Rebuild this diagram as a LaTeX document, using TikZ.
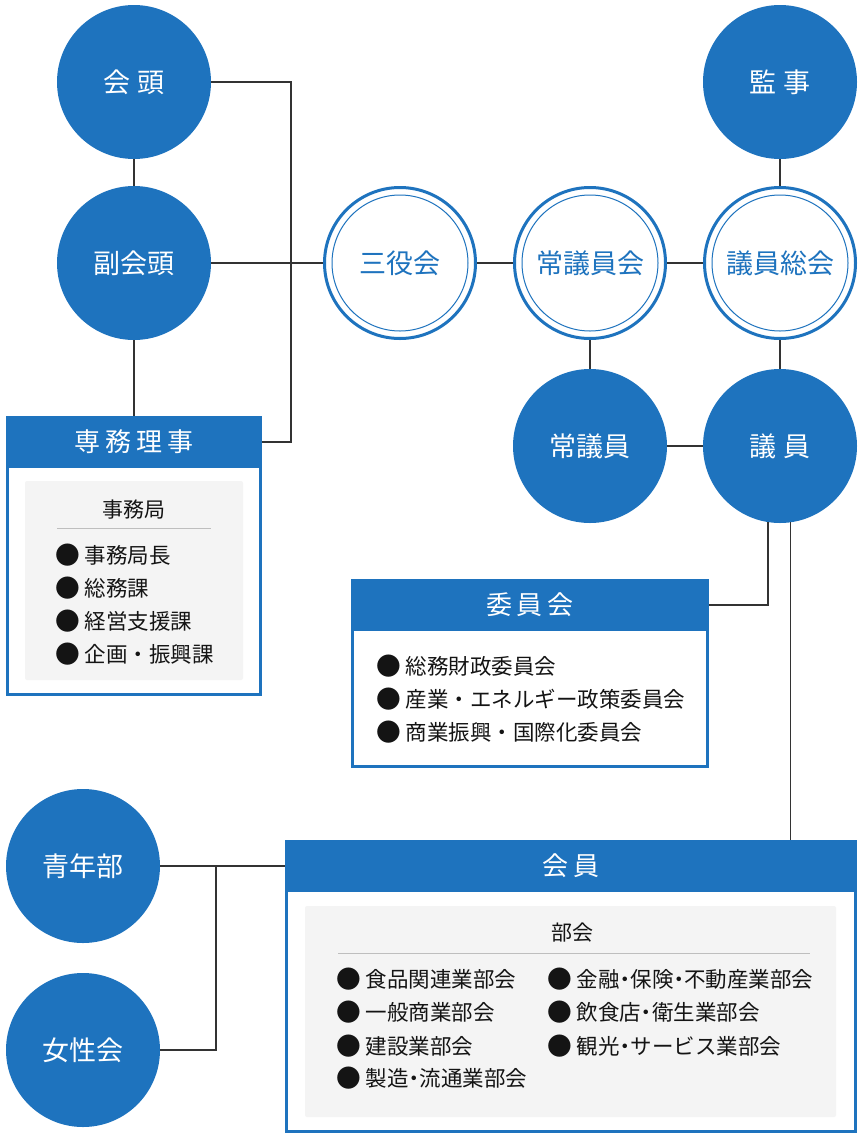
\documentclass[tikz,border=0pt]{standalone}
\usepackage{fontspec}
\setmainfont{Noto Sans CJK JP}
\definecolor{mblue}{RGB}{30,115,190}
\definecolor{panelgray}{RGB}{244,244,244}
\definecolor{lineclr}{RGB}{51,51,51}
\definecolor{rulegray}{RGB}{190,190,190}
\newcommand\hdot{\makebox[0.5em][c]{・}}
\newcommand\bul{\raisebox{-0.06em}{\scalebox{1.15}{●}}}
\tikzset{
 fc/.style={circle, fill=mblue, minimum size=154pt, inner sep=0pt, text=white, font=\fontsize{27pt}{30pt}\selectfont},
 dc/.style={circle, draw=mblue, line width=3pt, fill=white, minimum size=151pt, inner sep=0pt, text=mblue, font=\fontsize{27pt}{30pt}\selectfont},
 hdr/.style={rectangle, fill=mblue, inner sep=0pt, text=white, minimum height=52pt, font=\fontsize{26pt}{30pt}\selectfont},
 bodybox/.style={rectangle, draw=mblue, line width=3pt, fill=white, inner sep=0pt},
 panel/.style={rectangle, fill=panelgray, rounded corners=2pt, inner sep=0pt},
 item/.style={anchor=west, inner sep=0pt, text=black!92, font=\fontsize{21.5pt}{25pt}\selectfont},
 ptitle/.style={inner sep=0pt, text=black!92, font=\fontsize{21pt}{25pt}\selectfont},
 conn/.style={draw=lineclr, line width=1.2pt},
}
\begin{document}
\begin{tikzpicture}[x=1pt,y=-1pt]
\useasboundingbox (0,0) rectangle (860,1141);

% circles
\node[fc] (kaito) at (134,82) {会 頭};
\node[fc] (fukukaito) at (134,263) {副会頭};
\node[fc] (kanji) at (780,82) {監 事};
\node[dc] (sanyaku) at (400,263) {三役会};
\node[dc] (joginkai) at (590,263) {常議員会};
\node[dc] (giinsokai) at (780,263) {議員総会};
\foreach \n in {sanyaku,joginkai,giinsokai}
  \draw[mblue, line width=1pt] (\n.center) circle[radius=68];
\node[fc] (jogiin) at (590,446) {常議員};
\node[fc] (giin) at (780,446) {議 員};
\node[fc] (seinen) at (83,866) {青年部};
\node[fc] (josei) at (83,1050) {女性会};

% senmu box
\node[bodybox, minimum width=253pt, minimum height=277pt] (senmu) at (134,556) {};
\node[hdr, minimum width=256pt] (senmuH) at (134,442) {専\kern5pt 務\kern5pt 理\kern5pt 事};
\node[panel, minimum width=218pt, minimum height=199pt] (jimu) at (134,580.5) {};
\node[ptitle] (jimuT) at (134,510) {事務局};
\draw[rulegray, line width=1pt] (57,528) -- (211,528);
\node[item] (j1) at (55,555) {\bul{} 事務局長};
\node[item] (j2) at (55,588) {\bul{} 総務課};
\node[item] (j3) at (55,621) {\bul{} 経営支援課};
\node[item] (j4) at (55,654) {\bul{} 企画・振興課};

% iinkai box
\node[bodybox, minimum width=355pt, minimum height=186pt] (iin) at (530,673.5) {};
\node[hdr, minimum width=358pt] (iinH) at (530,605) {委\kern5pt 員\kern5pt 会};
\node[item] (i1) at (376,666) {\bul{} 総務財政委員会};
\node[item] (i2) at (376,699) {\bul{} 産業・エネルギー政策委員会};
\node[item] (i3) at (376,732) {\bul{} 商業振興・国際化委員会};

% kaiin box
\node[bodybox, minimum width=569pt, minimum height=290pt] (kaiin) at (571,986.5) {};
\node[hdr, minimum width=572pt] (kaiinH) at (571,866) {会\kern5pt 員};
\node[panel, minimum width=531pt, minimum height=211pt] (bukai) at (570.5,1011.5) {};
\node[ptitle] (bukaiT) at (572,933) {部会};
\draw[rulegray, line width=1pt] (338,953) -- (810,953);
\node[item] (b1) at (336,979) {\bul{} 食品関連業部会};
\node[item] (b2) at (336,1012) {\bul{} 一般商業部会};
\node[item] (b3) at (336,1046) {\bul{} 建設業部会};
\node[item] (b4) at (336,1078) {\bul{} 製造\hdot 流通業部会};
\node[item] (b5) at (547,979) {\bul{} 金融\hdot 保険\hdot 不動産業部会};
\node[item] (b6) at (547,1012) {\bul{} 飲食店\hdot 衛生業部会};
\node[item] (b7) at (547,1046) {\bul{} 観光\hdot サービス業部会};

% connectors
\coordinate (c1) at (291,82);
\coordinate (c2) at (216,866);
\draw[conn] (kaito) -- (fukukaito);
\draw[conn] (fukukaito) -- (senmuH);
\draw[conn] (kaito.east) -- (c1) |- (senmuH.east);
\draw[conn] (fukukaito) -- (sanyaku);
\draw[conn] (sanyaku) -- (joginkai);
\draw[conn] (joginkai) -- (giinsokai);
\draw[conn] (kanji) -- (giinsokai);
\draw[conn] (joginkai) -- (jogiin);
\draw[conn] (giinsokai) -- (giin);
\draw[conn] (jogiin) -- (giin);
\draw[conn] (giin.261) |- (iinH.east);
\draw[conn] (giin.278) -- (giin.278 |- kaiinH.north);
\draw[conn] (seinen) -- (kaiinH);
\draw[conn] (josei.east) -| (c2);
\end{tikzpicture}
\end{document}
